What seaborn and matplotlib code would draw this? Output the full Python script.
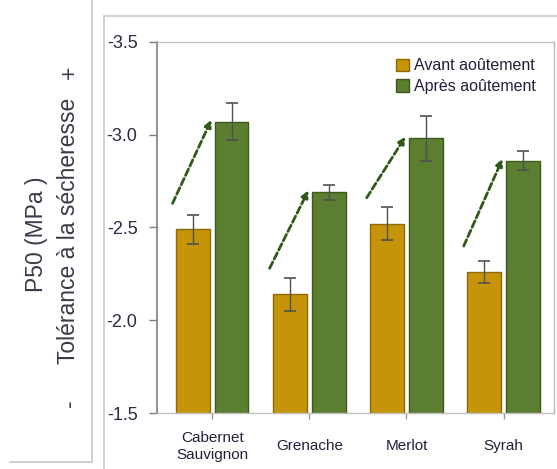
import matplotlib
matplotlib.use("Agg")
import matplotlib.pyplot as plt
from matplotlib.lines import Line2D
from matplotlib.patches import Patch
import seaborn as sns
import pandas as pd

cepages = ["Cabernet\nSauvignon", "Grenache", "Merlot", "Syrah"]
series = ["Avant aoûtement", "Après aoûtement"]
avant = [-2.49, -2.14, -2.52, -2.26]
avant_err = [0.08, 0.09, 0.09, 0.06]
apres = [-3.07, -2.69, -2.98, -2.86]
apres_err = [0.10, 0.04, 0.12, 0.05]
yticks = [-3.5, -3.0, -2.5, -2.0, -1.5]

sns.set_theme(style="white")
plt.rcParams["font.family"] = ["Liberation Sans", "DejaVu Sans"]

df = pd.DataFrame({
    "cepage": cepages * 2,
    "serie": [series[0]] * 4 + [series[1]] * 4,
    "p50": avant + apres,
})

W, H = 557, 469
fig = plt.figure(figsize=(W / 100, H / 100), dpi=100)
ax = fig.add_axes([157 / W, 1 - 413 / H, (554 - 157) / W, (413 - 42) / H])

colors = ["#C59408", "#5C7E30"]
edges = ["#8C6A05", "#3B5A1C"]
sns.barplot(data=df, x="cepage", y="p50", hue="serie", order=cepages,
            hue_order=series, palette=colors, saturation=1, errorbar=None,
            width=0.8, gap=0.14, ax=ax, legend=False)

n = len(cepages)
for k, p in enumerate(ax.patches[:2 * n]):
    s = k // n
    i = k % n
    p.set_edgecolor(edges[s])
    p.set_linewidth(1.0)
    xc = p.get_x() + p.get_width() / 2
    val = avant[i] if s == 0 else apres[i]
    er = avant_err[i] if s == 0 else apres_err[i]
    ax.errorbar(xc, val, yerr=er, fmt="none", ecolor="#505050",
                elinewidth=1.0, capsize=4, capthick=1.2, zorder=5)

for i in range(n):
    ax.annotate("", xy=(i - 0.01, apres[i] - 0.01),
                xytext=(i - 0.41, avant[i] - 0.14),
                arrowprops=dict(arrowstyle="-|>", color="#2F5A1A", lw=2.0,
                                linestyle=(0, (2.5, 1.2)), mutation_scale=10,
                                shrinkA=0, shrinkB=0), zorder=6)

ax.set_ylim(-1.5, -3.5)
ax.set_xlim(-0.57, 3.52)
ax.set_yticks(yticks)
ax.set_yticklabels([f"{v:.1f}" for v in yticks])
ax.set_xlabel("")
ax.set_ylabel("")
ax.tick_params(axis="y", left=True, length=6, width=1, color="#7f7f7f",
               labelsize=13, labelcolor="#2b2b45", pad=8)
ax.tick_params(axis="x", bottom=True, length=4, width=1, color="#9a9a9a",
               labelsize=11, labelcolor="#20203a", pad=20)
for lab in ax.get_xticklabels():
    lab.set_linespacing(1.3)
    lab.set_verticalalignment("center")

for side in ["top", "right", "bottom"]:
    ax.spines[side].set_color("#c0c0c0")
    ax.spines[side].set_linewidth(1.0)
ax.spines["left"].set_color("#7f7f7f")
ax.spines["left"].set_linewidth(1.2)

handles = [Patch(facecolor=colors[j], edgecolor=edges[j], label=series[j]) for j in range(2)]
leg = ax.legend(handles=handles, loc="upper right", frameon=False, fontsize=11.5,
                handlelength=0.8, handleheight=0.8, handletextpad=0.3,
                labelspacing=0.35, bbox_to_anchor=(550 / W, 1 - 44 / H),
                bbox_transform=fig.transFigure)
for t in leg.get_texts():
    t.set_color("#20203a")

txtc = "#3a3a4a"
fig.text(36 / W, 1 - 234 / H, "P50 (MPa )", rotation=90, ha="center",
         va="center", fontsize=16.5, color=txtc)
fig.text(69 / W, 1 - 231 / H, "Tolérance à la sécheresse", rotation=90,
         ha="center", va="center", fontsize=16.5, color=txtc)
fig.text(69 / W, 1 - 403 / H, "-", rotation=90, ha="center", va="center",
         fontsize=16.5, color=txtc)
fig.text(69 / W, 1 - 72 / H, "+", rotation=90, ha="center", va="center",
         fontsize=16.5, color=txtc)

fc = "#c8c8c8"
def fline(x0, y0, x1, y1):
    fig.add_artist(Line2D([x0 / W, x1 / W], [1 - y0 / H, 1 - y1 / H],
                          color=fc, lw=1.2, transform=fig.transFigure))
fline(104, 16, 104, 469)
fline(104, 16, 557, 16)
fline(92, 0, 92, 462)
fline(10, 462, 92, 462)

fig.savefig("out.png", dpi=100)
